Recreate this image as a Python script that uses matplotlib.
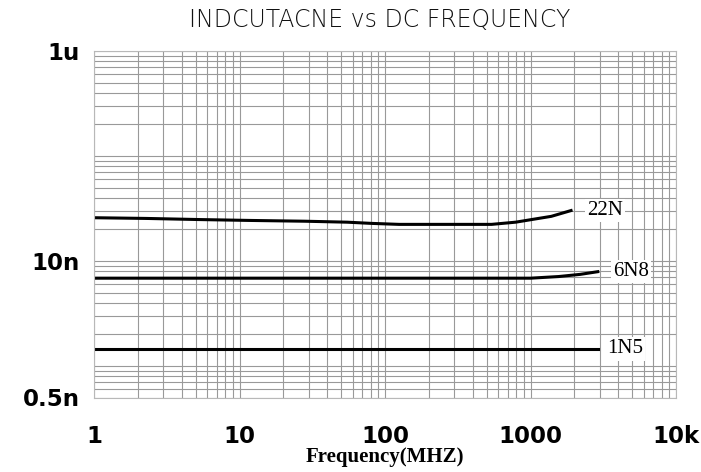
import numpy as np
import matplotlib.pyplot as plt
from matplotlib.ticker import LogLocator, FixedLocator, FixedFormatter, NullFormatter

# data (frequency in MHz, inductance in H)
freq_22n = [1, 2.3, 5.2, 12, 28, 55, 80, 125, 300, 540, 790, 1020, 1390, 1900]
ind_22n = [25.8, 25.4, 24.8, 24.3, 23.9, 23.4, 22.8, 22.3, 22.3, 22.3, 23.4, 24.8, 26.6, 30.2]
freq_6n8 = [1, 10, 100, 1000, 1560, 2200, 2900]
ind_6n8 = [6.85, 6.85, 6.85, 6.85, 7.1, 7.45, 7.9]
freq_1n5 = [1, 10, 100, 1000, 2900]
ind_1n5 = [1.45, 1.45, 1.45, 1.45, 1.45]
series_names = ["22N", "6N8", "1N5"]

xticks = [1, 10, 100, 1000, 10000]
xtick_labels = ["1", "10", "100", "1000", "10k"]
yticks = [5e-10, 1e-8, 1e-6]
ytick_labels = ["0.5n", "10n", "1u"]

fig = plt.figure(figsize=(7.01, 4.72), dpi=100)
ax = fig.add_axes([94 / 701, 1 - 397.5 / 472, 582 / 701, 346.5 / 472])

ax.set_xscale("log")
ax.set_yscale("log")
ax.set_xlim(1, 10000)
ax.set_ylim(5e-10, 1e-6)

ax.xaxis.set_major_locator(FixedLocator(xticks))
ax.xaxis.set_major_formatter(FixedFormatter(xtick_labels))
ax.xaxis.set_minor_locator(LogLocator(base=10, subs=np.arange(2, 10)))
ax.xaxis.set_minor_formatter(NullFormatter())
ax.yaxis.set_major_locator(FixedLocator(yticks))
ax.yaxis.set_major_formatter(FixedFormatter(ytick_labels))
ax.yaxis.set_minor_locator(LogLocator(base=10, subs=np.arange(1, 10)))
ax.yaxis.set_minor_formatter(NullFormatter())

ax.grid(True, which="both", color="#999999", linewidth=0.8)
ax.set_axisbelow(True)
ax.tick_params(which="both", length=0)
ax.tick_params(axis="x", pad=20)
ax.tick_params(axis="y", pad=10)
for lbl in ax.get_xticklabels() + ax.get_yticklabels():
    lbl.set_fontsize(16.5)
    lbl.set_fontweight("bold")
    lbl.set_family("DejaVu Sans")
for sp in ax.spines.values():
    sp.set_color("#b8b8b8")

all_f = [freq_22n, freq_6n8, freq_1n5]
all_l = [ind_22n, ind_6n8, ind_1n5]
offsets = [16, 15, 9]
for name, f, l, off in zip(series_names, all_f, all_l, offsets):
    vals = np.array(l) * 1e-9
    ax.plot(f, vals, color="black", linewidth=2.2)
    ax.annotate(name, xy=(f[-1], vals[-1]), xytext=(off, 0), textcoords="offset pixels",
                ha="left", va="center", fontsize=15, family="Liberation Serif",
                bbox=dict(boxstyle="square,pad=0.1", fc="white", ec="none"))

ax.set_xlabel("Frequency(MHZ)", fontsize=15, fontweight="bold", family="Liberation Serif", labelpad=-1)
fig.text(380 / 701, 1 - 20 / 472, "INDCUTACNE vs DC FREQUENCY", ha="center", va="center",
         fontsize=17, family="DejaVu Sans", fontweight=200, color="#111111")

fig.savefig("out.png", dpi=100)
